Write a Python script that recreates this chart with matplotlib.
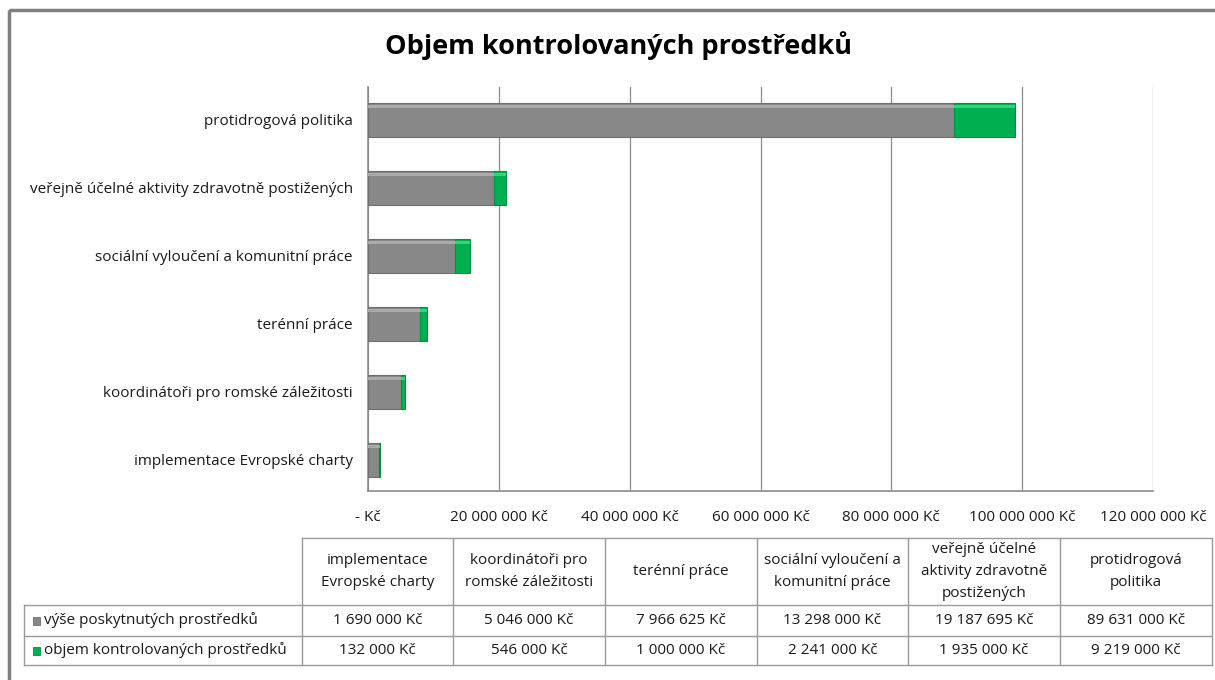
import matplotlib
matplotlib.use("Agg")
import matplotlib.pyplot as plt
from matplotlib.patches import Rectangle
import numpy as np

categories = ["implementace Evropské charty", "koordinátoři pro romské záležitosti",
              "terénní práce", "sociální vyloučení a komunitní práce",
              "veřejně účelné aktivity zdravotně postižených", "protidrogová politika"]
table_headers = ["implementace\nEvropské charty", "koordinátoři pro\nromské záležitosti",
                 "terénní práce", "sociální vyloučení a\nkomunitní práce",
                 "veřejně účelné\naktivity zdravotně\npostižených", "protidrogová\npolitika"]
provided = [1690000, 5046000, 7966625, 13298000, 19187695, 89631000]
controlled = [132000, 546000, 1000000, 2241000, 1935000, 9219000]
series_names = ["výše poskytnutých prostředků", "objem kontrolovaných prostředků"]
xticks = [0, 20000000, 40000000, 60000000, 80000000, 100000000, 120000000]
title = "Objem kontrolovaných prostředků"

GRAY = "#888888"
GREEN = "#00b050"
FONT = ["Open Sans", "DejaVu Sans"]
plt.rcParams['font.family'] = FONT
TXT = "#1a1a1a"
FS = 11

def fmt(v):
    if v == 0:
        return "- Kč"
    return f"{v:,}".replace(",", " ") + " Kč"

W, H = 1215, 680
fig = plt.figure(figsize=(W / 100, H / 100), dpi=100)
fig.patch.set_facecolor("white")

# outer border
bg = fig.add_axes([0, 0, 1, 1])
bg.set_xlim(0, W)
bg.set_ylim(H, 0)
bg.axis("off")
bg.add_patch(Rectangle((9, 9.5), W + 20, H + 20, fill=False, edgecolor="#7f7f7f", lw=2.5))

# main axes
x0, x1, y0, y1 = 368, 1153, 87, 491
ax = fig.add_axes([x0 / W, 1 - y1 / H, (x1 - x0) / W, (y1 - y0) / H])
y = np.arange(len(categories))
ax.barh(y, provided, height=0.5, color=GRAY, edgecolor="#6e6e6e", lw=0.8, zorder=3)
ax.barh(y + 0.2, provided, height=0.05, color="#aaaaaa", lw=0, zorder=4)
ax.barh(y, controlled, left=provided, height=0.5, color=GREEN, edgecolor="#009040", lw=0.8, zorder=3)
ax.barh(y + 0.2, controlled, left=provided, height=0.05, color="#2fd877", lw=0, zorder=4)
ax.set_xlim(0, 120000000)
ax.set_ylim(-0.456, 5.485)
ax.set_xticks(xticks)
ax.set_xticklabels([fmt(v) for v in xticks], fontsize=FS, color=TXT)
ax.set_yticks(y)
ax.set_yticklabels(categories, fontsize=FS, color=TXT)
ax.tick_params(axis="both", length=0)
ax.tick_params(axis="x", pad=14)
ax.tick_params(axis="y", pad=11)
ax.grid(axis="x", color="#8c8c8c", lw=0.9, zorder=0)
for s in ["top", "right"]:
    ax.spines[s].set_visible(False)
for s in ["left", "bottom"]:
    ax.spines[s].set_color("#8c8c8c")
    ax.spines[s].set_linewidth(1.2)

fig.text(619 / W, 1 - 46 / H, title, ha="center", va="center", fontsize=19.5,
         fontweight="bold", color="black")

# data table
col_edges = [302, 453, 605, 757, 908, 1060, 1212]
row_edges = [538, 605, 636, 665]
lc = "#9a9a9a"
for cx in col_edges:
    bg.plot([cx, cx], [row_edges[0], row_edges[-1]], color=lc, lw=1)
bg.plot([24, 24], [row_edges[1], row_edges[-1]], color=lc, lw=1)
bg.plot([302, 1212], [row_edges[0], row_edges[0]], color=lc, lw=1)
for ry in row_edges[1:]:
    bg.plot([24, 1212], [ry, ry], color=lc, lw=1)

for i, h in enumerate(table_headers):
    cx = (col_edges[i] + col_edges[i + 1]) / 2
    bg.text(cx, (row_edges[0] + row_edges[1]) / 2, h, ha="center", va="center",
            fontsize=FS, linespacing=1.65, color=TXT)
    bg.text(cx, (row_edges[1] + row_edges[2]) / 2, fmt(provided[i]), ha="center", va="center",
            fontsize=FS, color=TXT)
    bg.text(cx, (row_edges[2] + row_edges[3]) / 2, fmt(controlled[i]), ha="center", va="center",
            fontsize=FS, color=TXT)

for j, (name, col, ec) in enumerate(zip(series_names, [GRAY, GREEN], ["#6e6e6e", "#009040"])):
    cy = (row_edges[1 + j] + row_edges[2 + j]) / 2
    bg.add_patch(Rectangle((33, cy - 4), 7, 8, facecolor=col, edgecolor=ec, lw=0.6))
    bg.text(44, cy, name, ha="left", va="center", fontsize=FS, color=TXT)

fig.savefig("out.png", dpi=100, facecolor="white")
